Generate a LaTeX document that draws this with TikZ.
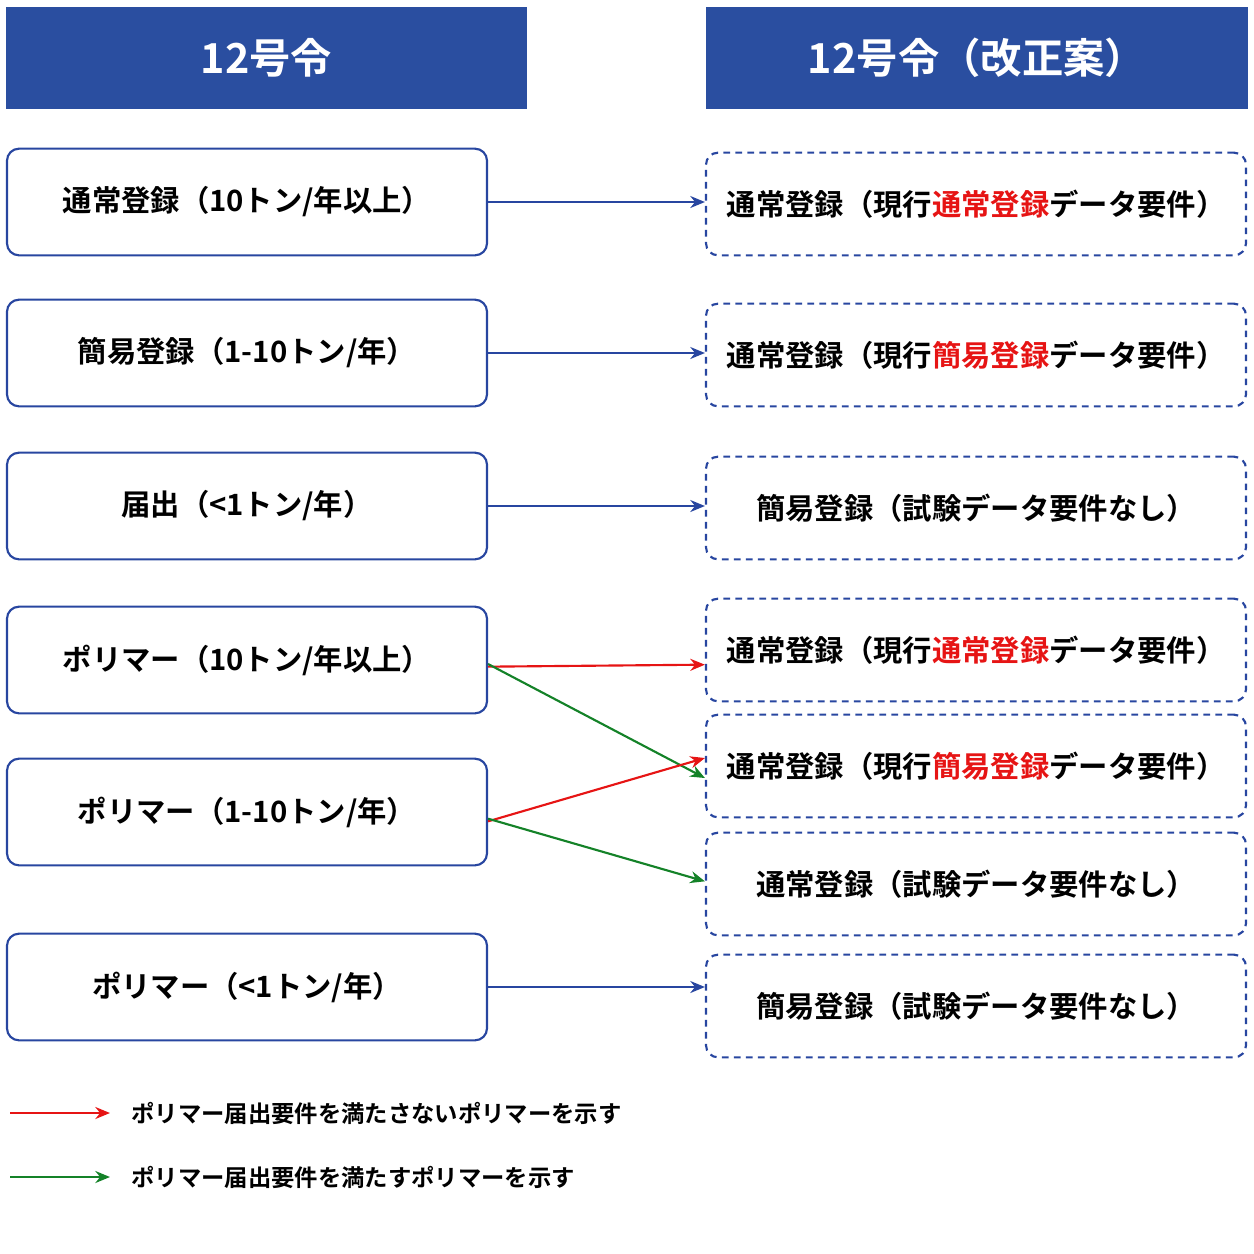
\documentclass[tikz,border=0pt]{standalone}
\usepackage{fontspec}
\setmainfont{Noto Sans CJK JP}[BoldFont={* Bold}]
\usetikzlibrary{arrows.meta}
\definecolor{hdblue}{RGB}{42,78,160}
\definecolor{lnblue}{RGB}{40,70,160}
\definecolor{arred}{RGB}{230,20,20}
\definecolor{argreen}{RGB}{20,130,40}
\tikzset{
  header/.style={fill=hdblue, text=white, font=\bfseries\fontsize{31}{36}\selectfont, inner sep=0pt},
  oldbox/.style={draw=lnblue, line width=1.6pt, rounded corners=9pt, minimum width=360pt, minimum height=80pt, font=\bfseries\fontsize{22}{26}\selectfont},
  newbox/.style={draw=lnblue, line width=1.6pt, dashed, dash pattern=on 5pt off 4pt, rounded corners=9pt, minimum width=405pt, minimum height=77pt, font=\bfseries\fontsize{22}{26}\selectfont},
  arr/.style={-{Stealth[length=11pt,width=9pt]}, line width=1.6pt},
  legend/.style={anchor=west, font=\bfseries\fontsize{17.5}{20}\selectfont}
}
\newcommand{\red}[1]{\textcolor{arred}{#1}}
\begin{document}
\begin{tikzpicture}[x=0.75pt,y=0.75pt,yscale=-1,xscale=1]
\useasboundingbox (0,0) rectangle (1254,1254);
% headers
\node[header, minimum width=391pt, minimum height=77pt] (h1) at (266.5,58) {12号令};
\node[header, minimum width=406pt, minimum height=77pt] (h2) at (977,58) {12号令（改正案）};
% current categories
\node[oldbox] (l1) at (247,202) {通常登録（10トン/年以上）};
\node[oldbox] (l2) at (247,353) {簡易登録（1-10トン/年）};
\node[oldbox] (l3) at (247,506) {届出（<1トン/年）};
\node[oldbox] (l4) at (247,660) {ポリマー（10トン/年以上）};
\node[oldbox] (l5) at (247,812) {ポリマー（1-10トン/年）};
\node[oldbox] (l6) at (247,987) {ポリマー（<1トン/年）};
% revised categories
\node[newbox] (r1) at (976,204) {通常登録（現行\red{通常登録}データ要件）};
\node[newbox] (r2) at (976,355) {通常登録（現行\red{簡易登録}データ要件）};
\node[newbox] (r3) at (976,508) {簡易登録（試験データ要件なし）};
\node[newbox] (r4) at (976,650) {通常登録（現行\red{通常登録}データ要件）};
\node[newbox] (r5) at (976,766) {通常登録（現行\red{簡易登録}データ要件）};
\node[newbox] (r6) at (976,884) {通常登録（試験データ要件なし）};
\node[newbox] (r7) at (976,1006) {簡易登録（試験データ要件なし）};
% connectors
\draw[arr, lnblue] (l1.east) -- (r1.west |- l1.east);
\draw[arr, lnblue] (l2.east) -- (r2.west |- l2.east);
\draw[arr, lnblue] (l3.east) -- (r3.west |- l3.east);
\draw[arr, lnblue] (l6.east) -- (r7.west |- l6.east);
\draw[arr, arred] ([yshift=5pt]l4.east) -- ([yshift=11pt]r4.west);
\draw[arr, argreen] ([yshift=3pt]l4.east) -- ([yshift=9pt]r5.west);
\draw[arr, arred] ([yshift=7pt]l5.east) -- ([yshift=-6pt]r5.west);
\draw[arr, argreen] ([yshift=5pt]l5.east) -- ([yshift=-2pt]r6.west);
% legend
\coordinate (k1) at (10,1113);
\coordinate (k2) at (10,1177);
\draw[arr, arred] (k1) -- ++(100,0) node[legend, text=black, xshift=12pt] (t1) {ポリマー届出要件を満たさないポリマーを示す};
\draw[arr, argreen] (k2) -- ++(100,0) node[legend, text=black, xshift=12pt] (t2) {ポリマー届出要件を満たすポリマーを示す};
\end{tikzpicture}
\end{document}
